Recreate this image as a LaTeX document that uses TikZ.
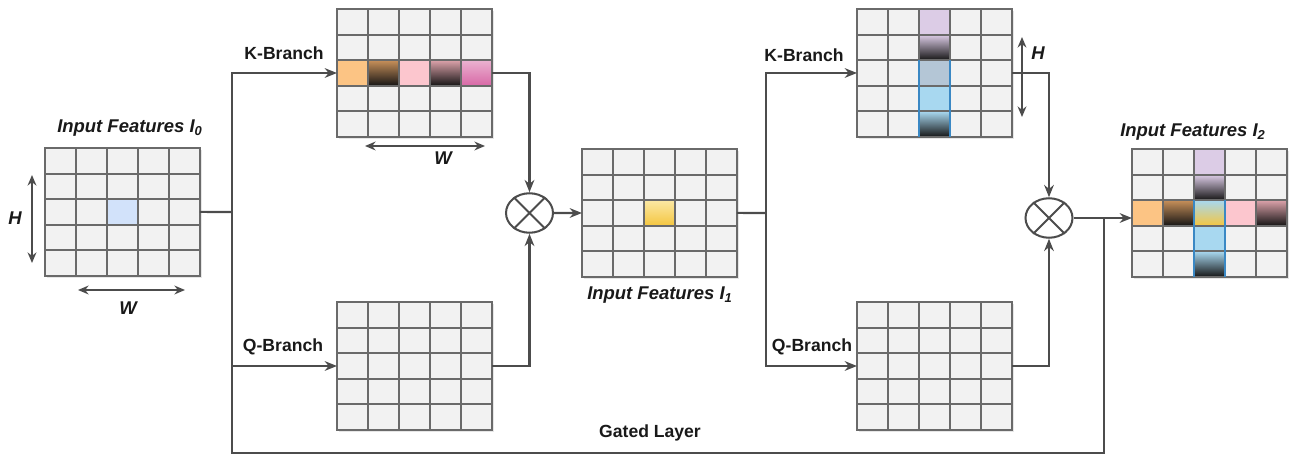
\documentclass[tikz,border=0pt]{standalone}
\usepackage{fontspec}
\setmainfont{Liberation Sans}
\usetikzlibrary{arrows.meta,calc,shapes.geometric,shadows}
\definecolor{linec}{HTML}{4C4C4C}
\definecolor{gridc}{HTML}{6A6A6A}
\definecolor{cellc}{HTML}{F2F2F2}
\definecolor{cblue}{HTML}{D2E2FA}
\definecolor{corange}{HTML}{FCC484}
\definecolor{cbrown}{HTML}{C8905A}
\definecolor{cpink}{HTML}{FCC6CE}
\definecolor{cpinkd}{HTML}{DCA2AA}
\definecolor{cmag}{HTML}{D868A6}
\definecolor{cmagl}{HTML}{EAB2D0}
\definecolor{cpurp}{HTML}{DCCCE6}
\definecolor{cgblue}{HTML}{B4C6D6}
\definecolor{clblue}{HTML}{A8D8F0}
\definecolor{cyel}{HTML}{F4C640}
\definecolor{cyell}{HTML}{FBE8A4}
\definecolor{cdark}{HTML}{151515}
\definecolor{cedge}{HTML}{3A88C4}
\tikzset{
  gridbox/.style={draw=gridc, line width=1.15pt, fill=cellc, minimum width=3.1cm, minimum height=2.56cm,
    inner sep=0pt, outer sep=0pt, anchor=north west,
    drop shadow={opacity=0.2, shadow xshift=1.2pt, shadow yshift=-1.2pt}},
  gridline/.style={draw=gridc, line width=1.15pt},
  conn/.style={draw=linec, line width=1.15pt},
  arr/.style={conn, -{Stealth[length=7pt,width=5.5pt]}},
  dimarr/.style={draw=linec, line width=1.15pt, {Stealth[length=6pt,width=5pt]}-{Stealth[length=6pt,width=5pt]}},
  lbl/.style={font=\bfseries\fontsize{10}{12}\selectfont, text=black!90, inner sep=1pt},
  ttl/.style={font=\bfseries\itshape\fontsize{10.5}{12}\selectfont, text=black!90, inner sep=1pt},
  mult/.style={draw=linec, line width=1.15pt, ellipse, minimum width=0.94cm, minimum height=0.79cm,
    fill=white, inner sep=0pt},
  edgeline/.style={draw=cedge, line width=0.7pt},
}
\newcommand\fgrid[3]{\node[gridbox] (#1) at (#2,#3) {};}
\newcommand\fcell[4]{\fill[#4] ($(#1.north west)+(#2*31-31,#3*25.6-25.6)$) rectangle ++(31,25.6);}
\newcommand\glines[1]{%
  \foreach \k in {1,...,4}{%
    \draw[gridline] ($(#1.north west)+(\k*31,0)$) -- ($(#1.south west)+(\k*31,0)$);
    \draw[gridline] ($(#1.north west)+(0,\k*25.6)$) -- ($(#1.north east)+(0,\k*25.6)$);
  }
  \draw[gridline] (#1.north west) rectangle (#1.south east);}
\begin{document}
\begin{tikzpicture}[x=0.02cm, y=-0.02cm]
\useasboundingbox (0,0) rectangle (1296,456);

% grids
\fgrid{g0}{45}{148}
\fgrid{gk1}{337}{9}
\fgrid{gq1}{337}{302}
\fgrid{g1}{582}{149}
\fgrid{gk2}{857}{9}
\fgrid{gq2}{857}{302}
\fgrid{g2}{1132}{149}

% coloured cells
\fcell{g0}{3}{3}{cblue}
\fcell{gk1}{1}{3}{corange}
\fcell{gk1}{2}{3}{top color=cbrown, bottom color=cdark}
\fcell{gk1}{3}{3}{cpink}
\fcell{gk1}{4}{3}{top color=cpinkd, bottom color=cdark}
\fcell{gk1}{5}{3}{top color=cmagl, bottom color=cmag}
\fcell{g1}{3}{3}{top color=cyell, bottom color=cyel}
\fcell{gk2}{3}{1}{cpurp}
\fcell{gk2}{3}{2}{top color=cpurp, bottom color=cdark}
\fcell{gk2}{3}{3}{cgblue}
\fcell{gk2}{3}{4}{clblue}
\fcell{gk2}{3}{5}{top color=clblue, bottom color=cdark}
\fcell{g2}{1}{3}{corange}
\fcell{g2}{2}{3}{top color=cbrown, bottom color=cdark}
\fcell{g2}{3}{3}{top color=clblue, bottom color=cyel}
\fcell{g2}{4}{3}{cpink}
\fcell{g2}{5}{3}{top color=cpinkd, bottom color=cdark}
\fcell{g2}{3}{1}{cpurp}
\fcell{g2}{3}{2}{top color=cpurp, bottom color=cdark}
\fcell{g2}{3}{4}{clblue}
\fcell{g2}{3}{5}{top color=clblue, bottom color=cdark}

\glines{g0}
\glines{gk1}
\glines{gq1}
\glines{g1}
\glines{gk2}
\glines{gq2}
\glines{g2}

% blue edges of highlighted columns
\draw[edgeline] ($(gk2.north west)+(62,51.2)$) -- ++(0,76.8);
\draw[edgeline] ($(gk2.north west)+(93,51.2)$) -- ++(0,76.8);
\draw[edgeline] ($(g2.north west)+(62,51.2)$) -- ++(0,76.8);
\draw[edgeline] ($(g2.north west)+(93,51.2)$) -- ++(0,76.8);

% multiplication nodes
\node[mult] (c1) at (529.5,213) {};
\node[mult] (c2) at (1049,218) {};
\draw[conn] (c1.45) -- (c1.225) (c1.135) -- (c1.315);
\draw[conn] (c2.45) -- (c2.225) (c2.135) -- (c2.315);

% junctions
\coordinate (j1) at (232,212);
\coordinate (j3) at (766,213);
\coordinate (gb) at (650,453);
\coordinate (j2) at (1104,218);

% connectors
\draw[conn] (g0.east) -- (j1);
\draw[arr] (j1) |- (gk1.west);
\draw[arr] (j1) |- (gq1.west);
\draw[conn] (j1) -- (j1 |- gb) -| (j2);
\draw[arr] (gk1.east) -| (c1.north);
\draw[arr] (gq1.east) -| (c1.south);
\draw[arr] (c1.east) -- (g1.west);
\draw[conn] (g1.east) -- (j3);
\draw[arr] (j3) |- (gk2.west);
\draw[arr] (j3) |- (gq2.west);
\draw[arr] (gk2.east) -| (c2.north);
\draw[arr] (gq2.east) -| (c2.south);
\draw[arr] (c2.east) -- (c2.east -| g2.west);

% dimension arrows
\coordinate (h0a) at (32,175); \coordinate (h0b) at (32,263);
\coordinate (w0a) at (78,290); \coordinate (w0b) at (185,290);
\coordinate (w1a) at (365,146); \coordinate (w1b) at (485,146);
\coordinate (h2a) at (1022,37); \coordinate (h2b) at (1022,117);
\draw[dimarr] (h0a) -- (h0b);
\draw[dimarr] (w0a) -- (w0b);
\draw[dimarr] (w1a) -- (w1b);
\draw[dimarr] (h2a) -- (h2b);
\node[ttl] (lh0) at (15,218) {H};
\node[ttl] (lw0) at (128,308) {W};
\node[ttl] (lw1) at (443,158) {W};
\node[ttl] (lh2) at (1038,53) {H};

% labels
\node[ttl] (t0) at (130,128) {Input Features I\textsubscript{0}};
\node[ttl] (t1) at (660,295) {Input Features I\textsubscript{1}};
\node[ttl] (t2) at (1193,132) {Input Features I\textsubscript{2}};
\node[lbl] (kb1) at (284,53) {K-Branch};
\node[lbl] (qb1) at (283,347) {Q-Branch};
\node[lbl] (kb2) at (804,55) {K-Branch};
\node[lbl] (qb2) at (812,347) {Q-Branch};
\node[lbl] (gl) at (650,433) {Gated Layer};
\end{tikzpicture}
\end{document}
